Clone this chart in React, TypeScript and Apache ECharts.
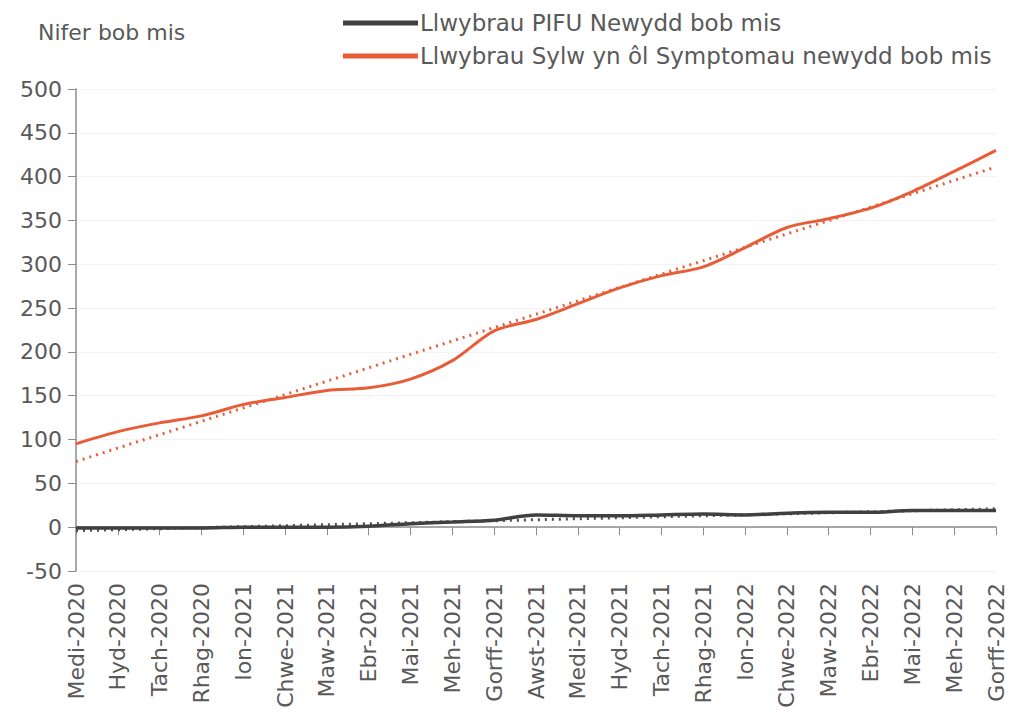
import React, { useEffect, useRef } from "react";
import * as echarts from "echarts";

const months = [
  "Medi-2020", "Hyd-2020", "Tach-2020", "Rhag-2020", "Ion-2021", "Chwe-2021",
  "Maw-2021", "Ebr-2021", "Mai-2021", "Meh-2021", "Gorff-2021", "Awst-2021",
  "Medi-2021", "Hyd-2021", "Tach-2021", "Rhag-2021", "Ion-2022", "Chwe-2022",
  "Maw-2022", "Ebr-2022", "Mai-2022", "Meh-2022", "Gorff-2022",
];

const pifu = [-1, -1, -1, -1, 0, 0, 0, 1, 4, 6, 8, 14, 13, 13, 14, 15, 14, 16, 17, 17, 19, 19, 19];
const symptom = [95, 109, 119, 127, 140, 148, 156, 159, 169, 190, 224, 237, 255, 273, 287, 297, 319, 342, 352, 364, 383, 406, 430];

// Trend lines: endpoints
const pifuTrend = [-4, ...Array(21).fill(null), 21];
const symptomTrend = [75, ...Array(21).fill(null), 411];

const yTicks = { min: -50, max: 500, interval: 50 };

const PIFU_NAME = "Llwybrau PIFU Newydd bob mis";
const SYM_NAME = "Llwybrau Sylw yn ôl Symptomau newydd bob mis";

const FONT = "DejaVu Sans";
const TXT = "#595959";

export default function App() {
  const ref = useRef<HTMLDivElement>(null);
  useEffect(() => {
    if (!ref.current) return;
    const chart = echarts.init(ref.current, null, { renderer: "svg" });
    chart.setOption({
      animation: false,
      backgroundColor: "#ffffff",
      textStyle: { fontFamily: FONT },
      title: {
        text: "Nifer bob mis",
        left: 33,
        top: 16,
        textStyle: { fontFamily: FONT, fontSize: 22, fontWeight: "normal", color: TXT },
      },
      legend: {
        data: [PIFU_NAME, SYM_NAME],
        orient: "vertical",
        left: 338,
        top: 5,
        itemWidth: 75,
        itemHeight: 5,
        itemGap: 7,
        icon: "rect",
        textStyle: { fontFamily: FONT, fontSize: 23, color: TXT, lineHeight: 26, padding: [0, 0, 0, -3] },
      },
      grid: { left: 76, right: 15, top: 89, bottom: 147, containLabel: false },
      xAxis: [
        {
          type: "category",
          data: months,
          boundaryGap: false,
          axisLine: { onZero: true, lineStyle: { color: "#8c8c8c", width: 1.5 } },
          axisTick: { show: true, interval: 0, length: 8, lineStyle: { color: "#8c8c8c" } },
          axisLabel: { show: false },
          splitLine: { show: false },
        },
        {
          type: "category",
          data: months,
          boundaryGap: false,
          position: "bottom",
          axisLine: { show: false, onZero: false },
          axisTick: { show: false },
          axisLabel: {
            rotate: 90,
            margin: 12,
            interval: 0,
            fontFamily: FONT,
            fontSize: 22,
            color: TXT,
          },
          splitLine: { show: false },
        },
      ],
      yAxis: {
        type: "value",
        min: yTicks.min,
        max: yTicks.max,
        interval: yTicks.interval,
        axisLine: { show: true, lineStyle: { color: "#8c8c8c", width: 1.5 } },
        axisTick: { show: true, length: 8, lineStyle: { color: "#8c8c8c" } },
        axisLabel: { margin: 14, fontFamily: FONT, fontSize: 22, color: TXT },
        splitLine: { show: true, lineStyle: { color: "#f3f3f3", width: 1 } },
      },
      series: [
        {
          name: PIFU_NAME,
          type: "line",
          data: pifu,
          xAxisIndex: 0,
          showSymbol: false,
          smooth: 0.3,
          lineStyle: { color: "#404040", width: 3.5 },
          itemStyle: { color: "#404040" },
          z: 4,
        },
        {
          name: SYM_NAME,
          type: "line",
          data: symptom,
          xAxisIndex: 0,
          showSymbol: false,
          smooth: 0.3,
          lineStyle: { color: "#E85D38", width: 3 },
          itemStyle: { color: "#E85D38" },
          z: 4,
        },
        {
          name: "PIFU trend",
          type: "line",
          data: pifuTrend,
          xAxisIndex: 0,
          connectNulls: true,
          showSymbol: false,
          lineStyle: { color: "#505050", width: 3, type: [2, 5] },
          z: 3,
        },
        {
          name: "Symptom trend",
          type: "line",
          data: symptomTrend,
          xAxisIndex: 0,
          connectNulls: true,
          showSymbol: false,
          lineStyle: { color: "#E0603C", width: 3, type: [2, 5] },
          z: 3,
        },
      ],
    });
    return () => chart.dispose();
  }, []);
  return <div ref={ref} style={{ width: 1011, height: 718, position: "absolute", left: 0, top: 0 }} />;
}
